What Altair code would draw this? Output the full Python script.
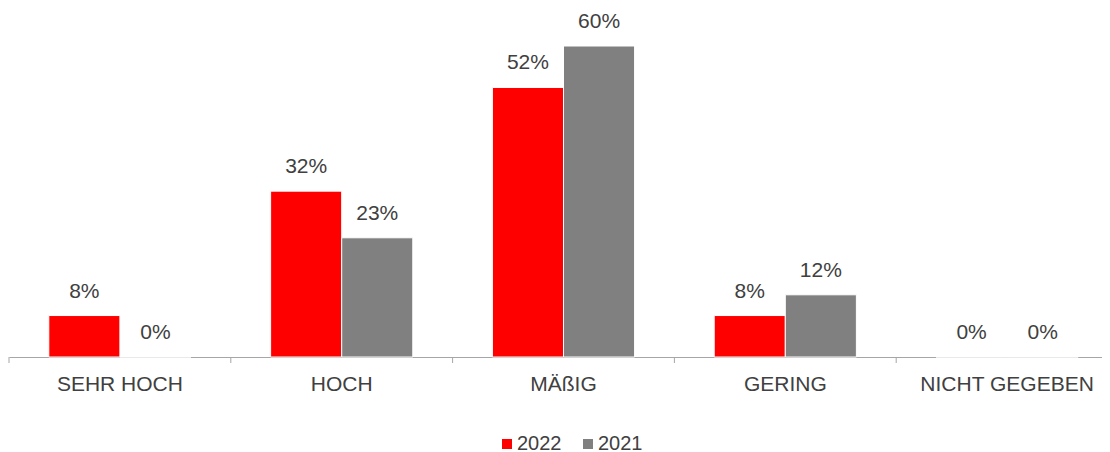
import altair as alt
import pandas as pd

categories = ["SEHR HOCH", "HOCH", "MÄßIG", "GERING", "NICHT GEGEBEN"]
series = ["2022", "2021"]
values_2022 = [8, 32, 52, 8, 0]
values_2021 = [0, 23, 60, 12, 0]
colors = ["#FF0000", "#808080"]

rows = []
for c, a, b in zip(categories, values_2022, values_2021):
    rows.append({"cat": c, "series": "2022", "value": a})
    rows.append({"cat": c, "series": "2021", "value": b})
df = pd.DataFrame(rows)
df["label"] = df["value"].astype(str) + "%"
ticks_df = pd.DataFrame({"cat": categories})

FONT = "Liberation Sans"
TXT = "#404040"

x = alt.X("cat:N", sort=categories, title=None,
          scale=alt.Scale(paddingInner=0, paddingOuter=0, range=[0, 1109]),
          axis=alt.Axis(ticks=False, domainColor="#a6a6a6", domainWidth=1,
                        labelAngle=0, labelFontSize=21, labelColor=TXT,
                        labelFont=FONT, labelPadding=27, labelBaseline="middle"))
xo = alt.XOffset("series:N", sort=series,
                 scale=alt.Scale(paddingOuter=0.56, paddingInner=0.0))
y = alt.Y("value:Q", scale=alt.Scale(domain=[0, 60], nice=False, zero=True),
          axis=None)

bars = alt.Chart(df).mark_bar(stroke="white", strokeWidth=1).encode(
    x=x, xOffset=xo, y=y,
    color=alt.Color("series:N", sort=series,
                    scale=alt.Scale(domain=series, range=colors),
                    legend=alt.Legend(title=None, orient="none", direction="horizontal",
                                      legendX=488, legendY=388, symbolType="square",
                                      symbolSize=100, symbolStrokeWidth=0,
                                      labelFontSize=20, labelColor=TXT, labelFont=FONT,
                                      columnPadding=16, labelOffset=0)),
)

labels = alt.Chart(df).mark_text(fontSize=21, font=FONT, color=TXT, baseline="middle", dy=-24).encode(
    x=x, xOffset=xo, y=y, text="label:N"
)

tick_rules = alt.Chart(ticks_df).mark_rule(color="#a6a6a6", strokeWidth=1).encode(
    x=alt.X("cat:N", sort=categories, bandPosition=0),
    y=alt.value(311), y2=alt.value(317)
)

chart = alt.layer(bars, labels, tick_rules).properties(
    width=1093, height=311,
    background="white",
    autosize=alt.AutoSizeParams(type="none"),
    padding={"left": 1, "top": 38, "right": 0, "bottom": 100},
).configure_view(strokeWidth=0, stroke=None)

chart.save("out.html", embed_options={"renderer": "svg", "actions": False})
